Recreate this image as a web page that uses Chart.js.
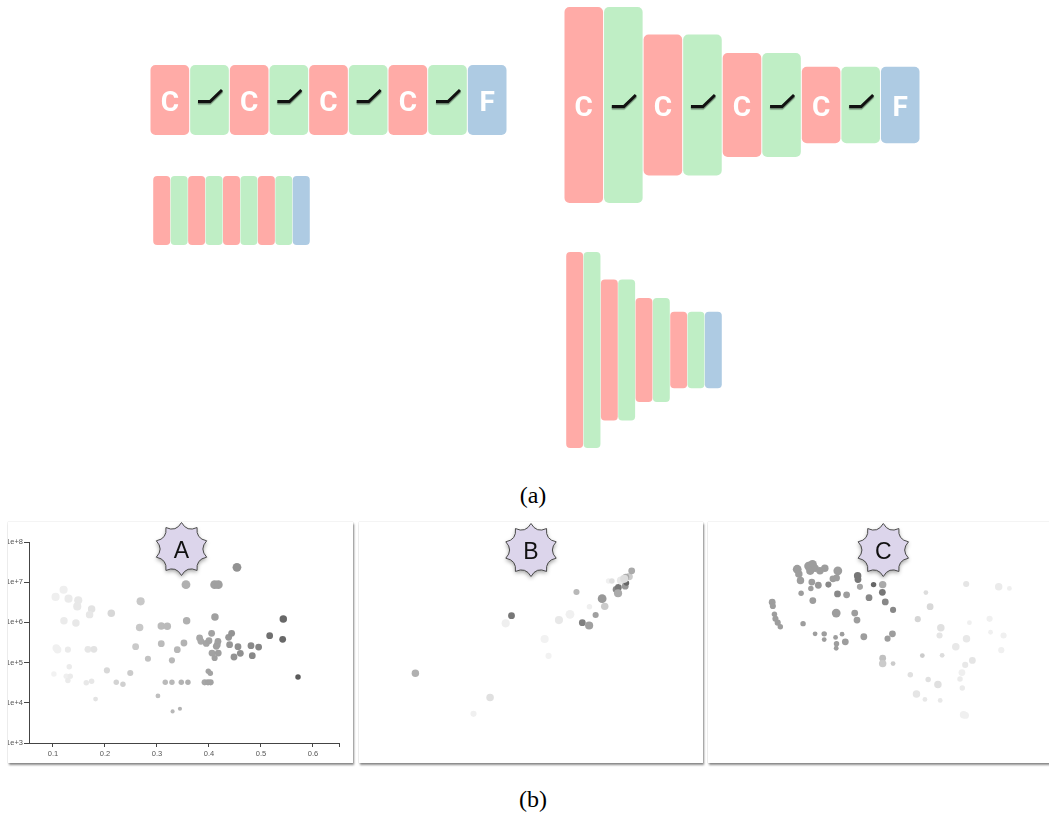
<!DOCTYPE html>
<html>
<head>
<meta charset="utf-8">
<script src="https://cdn.jsdelivr.net/npm/chart.js@4"></script>
<style>
  html, body { margin: 0; padding: 0; background: #fff; }
  body { width: 1049px; height: 814px; position: relative; overflow: hidden; }
  canvas.arch { position: absolute; }
  .panel {
    position: absolute; top: 522px; height: 241px; background: #fff;
    box-shadow: 1px 2px 2px rgba(0,0,0,0.45), 0 0 1px rgba(0,0,0,0.25);
    overflow: hidden;
  }
  .panel canvas { position: absolute; left: 0; top: 0; }
  .cap {
    position: absolute; width: 100px; text-align: center;
    font-family: "Liberation Serif", serif; font-size: 24px; line-height: 24px; color: #000;
  }
</style>
</head>
<body>
<div class="cap" style="left:483px; top:483px;">(a)</div>
<div class="cap" style="left:483px; top:787px;">(b)</div>

<div class="panel" id="panelA" style="left:8px; width:345px;"></div>
<div class="panel" id="panelB" style="left:359px; width:344px;"></div>
<div class="panel" id="panelC" style="left:708px; width:350px;"></div>

<script>
// ---------- (a) network layer stacks ----------
const layerNames = ['conv1', 'relu1', 'conv2', 'relu2', 'conv3', 'relu3', 'conv4', 'relu4', 'fc'];
const layerKind  = ['C', 'R', 'C', 'R', 'C', 'R', 'C', 'R', 'F'];
const flatWidths    = [64, 64, 64, 64, 64, 64, 64, 64, 64];
const pyramidWidths = [256, 256, 184, 184, 136, 136, 100, 100, 100];

// ---------- (b) panel A: x = score, y = parameter count (log), size = depth, tone = accuracy ----------
const aX = [0.1205,0.1051,0.130,0.1487,0.1468,0.1744,0.1705,0.1212,0.1442,0.2122,0.1064,0.109,0.1288,0.1673,0.1788,0.1314,0.1019,0.1256,0.1333,0.1288,0.1641,0.1744,0.182,0.2038,0.2218,0.2346,0.2487,
  0.2686,0.2667,0.259,0.2827,0.3083,0.3199,0.3083,0.3288,0.3391,0.3519,0.3571,0.3558,0.3019,0.316,0.3288,0.3468,0.3596,0.3301,0.3442,
  0.382,0.3846,0.3949,0.4,0.4051,0.4115,0.416,0.4173,0.4141,0.4058,0.4109,0.4179,0.3987,0.4026,0.3917,0.3981,0.4032,0.4109,0.418,0.4538,0.4378,0.4436,0.4397,0.4558,0.4603,0.4481,0.4808,0.4833,0.4955,0.5167,0.5429,0.5417,0.5712];
const aY = [6.5e6,4.3e6,3.9e6,3.54e6,2.5e6,2.15e6,1.56e6,1.1e6,9.7e5,1.68e6,2.3e5,2.1e5,2.1e5,2.14e5,2.14e5,7.9e4,5.2e4,4.55e4,4.55e4,3.6e4,3.17e4,3.42e4,1.24e4,6.4e4,3.23e4,2.88e4,5.5e4,
  3.34e6,7.5e5,2.49e5,1.25e5,8.1e5,8.0e5,2.96e5,1.14e5,2.1e5,3.07e5,1.1e6,8.7e6,1.48e4,3.23e4,3.23e4,3.23e4,3.23e4,6.1e3,7.1e3,
  4.1e5,3.38e5,3.0e5,3.5e5,5.35e5,1.36e6,2.79e5,3.38e5,2.54e5,1.73e5,1.3e5,1.73e5,6.1e4,5.4e4,3.23e4,3.23e4,3.23e4,8.7e6,8.7e6,2.34e7,4.26e5,5.35e5,2.79e5,2.49e5,1.7e5,1.38e5,2.64e5,1.49e5,2.44e5,4.68e5,1.22e6,3.8e5,4.4e4];
const aDepth = [11,11,11,11,11,10,10,10,10,10,10,10,8,9,9,7,7,7,7,7,7,7,6,8,7,7,8,
  11,10,9,8,10,10,9,8,9,9,10,12,6,7,7,7,7,5,5,
  9,9,9,9,9,10,9,9,9,9,8,9,7,7,8,8,8,12,12,12,9,9,9,9,9,9,9,9,9,9,10,9,7];
const aAcc = [4,4,6,8,8,11,9,6,8,19,3,3,6,9,11,6,2,4,6,6,8,9,11,18,21,23,26,
  28,28,27,32,36,37,36,38,39,42,43,43,34,37,38,41,43,38,41,
  48,48,50,51,52,53,54,54,54,52,53,54,51,51,49,51,51,53,54,62,59,61,59,63,63,61,67,68,70,83,88,88,97];
const aXTicks = [0.1, 0.2, 0.3, 0.4, 0.5, 0.6, 0.65];
const aYTicks = [1e3, 1e4, 1e5, 1e6, 1e7, 1e8];

// ---------- panel B: 2-D embedding ----------
const bX = [17.2,40.2,35.1,46.8,45.0,57.0,58.2,61.4,64.8,66.8,68.6,70.7,70.8,72.7,74.7,75.5,76.7,77.7,79.0,79.7,79.6,80.5,81.8,82.2,83.0,83.8,82.0,81.5];
const bY = [48.0,55.6,60.7,30.0,32.4,37.3,42.6,31.4,29.6,22.6,32.2,33.1,27.2,29.8,24.7,27.1,19.2,19.2,21.8,21.2,23.0,19.0,20.8,19.8,17.8,16.0,18.0,18.5];
const bDepth = [10,10,8,9,11,11,8,11,12,8,9,11,7,8,12,10,7,7,9,9,11,11,9,7,10,9,9,11];
const bAcc = [43,13,3,79,4,2,2,8,3,38,73,53,4,53,58,26,3,13,68,79,47,8,58,89,26,47,47,15];

// ---------- panel C: 2-D embedding ----------
const cX = [28.5,29.0,29.5,32.0,33.2,32.5,34.0,35.5,37.0,33.0,35.0,32.7,38.1,39.5,41.0,40.6,29.7,33.3,40.9,43.7,47.1,47.2,47.8,52.0,54.8,54.7,50.6,55.6,58.0,40.5,46.2,46.9,30.3,20.8,21.0,21.5,21.8,22.5,23.3,34.0,36.8,36.8,40.3,40.6,42.3,43.3,40.5,49.0,57.8,56.3,54.8,54.8,58.0,
  68.1,69.4,65.6,72.7,72.3,80.5,90.5,93.8,81.5,87.7,88.0,92.0,91.3,80.6,77.3,67.0,73.1,82.4,80.2,79.2,78.6,79.3,63.3,68.8,71.8,65.2,67.8,72.5,79.7,80.3];
const cY = [15.5,17.0,19.0,14.5,14.0,16.0,15.2,16.0,15.2,19.5,20.5,21.5,20.3,18.5,16.0,18.2,23.0,25.3,23.2,23.5,17.5,18.7,21.0,20.3,20.3,22.7,24.4,25.7,28.2,29.2,29.2,31.4,32.5,25.8,27.0,29.6,31.0,32.2,33.5,35.7,35.7,37.5,36.8,38.8,35.8,38.2,40.2,36.6,35.7,37.2,43.3,45.0,45.0,
  22.8,27.2,31.1,33.8,36.2,20.1,21.0,21.5,32.2,31.0,35.2,36.2,40.8,37.2,39.7,42.5,42.4,44.0,45.4,47.8,49.8,52.6,48.5,50.0,51.5,54.5,56.2,56.5,61.0,61.2];
const cDepth = [12,10,10,12,12,11,10,10,10,9,9,7,8,9,12,9,7,9,9,9,10,9,8,7,10,9,9,9,8,12,9,9,7,9,8,7,8,8,7,6,7,6,6,7,6,9,6,9,9,8,9,10,6,
  6,9,8,10,8,8,10,6,6,8,6,8,8,10,10,6,6,9,8,9,7,7,7,7,10,10,6,6,10,9];
const cAcc = [55,55,55,55,55,55,55,55,55,55,58,55,68,55,55,55,55,55,68,55,79,79,50,89,47,79,68,68,68,55,55,55,55,55,55,55,55,55,55,55,55,55,55,55,55,55,55,55,55,55,33,26,26,
  15,18,20,13,10,10,6,4,4,3,3,3,3,8,8,26,15,10,8,4,6,6,13,13,13,10,8,8,3,3];

// ---------- styling helpers ----------
const kindColor = { C: '#ffaba7', R: '#bfeec5', F: '#aecbe3' };
const grayOf = v => { const g = Math.round(245 - 1.6 * v); return `rgb(${g},${g},${g})`; };
const radiusOf = d => d / 3 + 0.4;

// White letters / ReLU glyph drawn on each block
const glyphPlugin = {
  id: 'layerGlyphs',
  afterDatasetsDraw(chart, args, opts) {
    if (!opts.enabled) return;
    const ctx = chart.ctx;
    const meta = chart.getDatasetMeta(0);
    meta.data.forEach((bar, i) => {
      const cx = bar.x, cy = (bar.y + bar.base) / 2;
      const kind = layerKind[i];
      ctx.save();
      if (kind === 'R') {
        ctx.shadowColor = 'rgba(0,0,0,0.45)';
        ctx.shadowOffsetY = 1.5;
        ctx.shadowBlur = 1;
        ctx.strokeStyle = '#111';
        ctx.lineWidth = 3;
        ctx.lineJoin = 'miter';
        ctx.beginPath();
        ctx.moveTo(cx - 11.5, cy + 1.5);
        ctx.lineTo(cx + 0.5, cy + 1.5);
        ctx.lineTo(cx + 12.5, cy - 10);
        ctx.stroke();
      } else {
        ctx.fillStyle = '#fff';
        ctx.font = 'bold 28px Roboto, "DejaVu Sans", sans-serif';
        ctx.textAlign = 'center';
        ctx.textBaseline = 'alphabetic';
        ctx.fillText(kind, cx, cy + 10.5);
      }
      ctx.restore();
    });
  }
};

function archChart(left, top, width, height, widths, span, labelled, radius) {
  const cv = document.createElement('canvas');
  cv.className = 'arch';
  cv.width = width; cv.height = height;
  cv.style.left = left + 'px'; cv.style.top = top + 'px';
  document.body.appendChild(cv);
  new Chart(cv, {
    type: 'bar',
    data: {
      labels: layerNames,
      datasets: [{
        data: widths.map(w => [-w / 2, w / 2]),
        backgroundColor: layerKind.map(k => kindColor[k]),
        borderRadius: radius,
        borderSkipped: false,
        borderWidth: 0,
        barPercentage: 0.975,
        categoryPercentage: 1
      }]
    },
    options: {
      responsive: false, animation: false, events: [],
      layout: { padding: 0 },
      plugins: { legend: { display: false }, tooltip: { enabled: false }, layerGlyphs: { enabled: labelled } },
      scales: {
        x: { display: false },
        y: { display: false, min: -span / 2, max: span / 2 }
      }
    },
    plugins: [glyphPlugin]
  });
}

archChart(150, 65, 357, 70, flatWidths, 64, true, 5);
archChart(153, 176, 157, 69, flatWidths, 64, false, 4);
archChart(564, 7, 356, 196, pyramidWidths, 256, true, 5);
archChart(566, 252, 156, 196, pyramidWidths, 256, false, 4);

// ---------- (b) badge marker ----------
const badgePlugin = {
  id: 'badge',
  afterDraw(chart, args, o) {
    const ctx = chart.ctx;
    const n = 10, R = 26.5, rc = 17.5;
    ctx.save();
    ctx.beginPath();
    for (let i = 0; i <= n; i++) {
      const a = -Math.PI / 2 + i * 2 * Math.PI / n;
      const px = o.x + R * Math.cos(a), py = o.y + R * Math.sin(a);
      if (i === 0) ctx.moveTo(px, py);
      else {
        const m = a - Math.PI / n;
        ctx.quadraticCurveTo(o.x + rc * Math.cos(m), o.y + rc * Math.sin(m), px, py);
      }
    }
    ctx.closePath();
    ctx.shadowColor = 'rgba(0,0,0,0.4)';
    ctx.shadowBlur = 4;
    ctx.shadowOffsetY = 2;
    ctx.fillStyle = '#dcd5eb';
    ctx.fill();
    ctx.shadowColor = 'transparent';
    ctx.lineWidth = 1;
    ctx.strokeStyle = '#4a4a4a';
    ctx.stroke();
    ctx.fillStyle = '#111';
    ctx.font = '23px "Liberation Sans", Arial, sans-serif';
    ctx.textAlign = 'center';
    ctx.textBaseline = 'alphabetic';
    ctx.fillText(o.label, o.x, o.y + 8.5);
    ctx.restore();
  }
};

function panelCanvas(id) {
  const host = document.getElementById(id);
  const cv = document.createElement('canvas');
  cv.width = host.offsetWidth; cv.height = host.offsetHeight;
  host.appendChild(cv);
  return cv;
}

function bubbles(xs, ys, depth, acc) {
  return [{
    data: xs.map((x, i) => ({ x, y: ys[i], r: radiusOf(depth[i]) })),
    backgroundColor: acc.map(grayOf),
    borderWidth: 0,
    hoverRadius: 0
  }];
}

const axisFont = { family: '"Liberation Sans", Arial, sans-serif', size: 7.5 };
const gridStyle = { drawOnChartArea: false, drawTicks: true, color: '#444', lineWidth: 1 };

new Chart(panelCanvas('panelA'), {
  type: 'bubble',
  data: { datasets: bubbles(aX, aY, aDepth, aAcc) },
  options: {
    responsive: false, animation: false, events: [],
    layout: { padding: { left: 0, right: 14, top: 20, bottom: 0 } },
    plugins: { legend: { display: false }, tooltip: { enabled: false }, badge: { label: 'A', x: 173.5, y: 27 } },
    scales: {
      x: {
        type: 'linear', min: 0.054, max: 0.65,
        afterBuildTicks: s => { s.ticks = aXTicks.map(v => ({ value: v })); },
        afterFit: s => { s.height = 20; },
        ticks: { font: axisFont, color: '#555', padding: 2, maxRotation: 0, autoSkip: false,
                 callback: v => (v > 0.62 ? '' : v.toFixed(1)) },
        grid: Object.assign({ tickLength: 4 }, gridStyle),
        border: { display: true, color: '#444', width: 1 }
      },
      y: {
        type: 'logarithmic', min: 1e3, max: 1e8,
        afterBuildTicks: s => { s.ticks = aYTicks.map(v => ({ value: v })); },
        afterFit: s => { s.width = 21; },
        ticks: { font: axisFont, color: '#555', padding: 1, autoSkip: false,
                 callback: v => '1e+' + Math.round(Math.log10(v)) },
        grid: Object.assign({ tickLength: 5 }, gridStyle),
        border: { display: true, color: '#444', width: 1 }
      }
    }
  },
  plugins: [badgePlugin]
});

function embeddingChart(id, xs, ys, depth, acc, xMin, xMax, label, bx) {
  new Chart(panelCanvas(id), {
    type: 'bubble',
    data: { datasets: bubbles(xs, ys, depth, acc) },
    options: {
      responsive: false, animation: false, events: [],
      layout: { padding: 0 },
      plugins: { legend: { display: false }, tooltip: { enabled: false }, badge: { label, x: bx, y: 28 } },
      scales: {
        x: { type: 'linear', display: false, min: xMin, max: xMax },
        y: { type: 'linear', display: false, min: 2.1, max: 74.7, reverse: true }
      }
    },
    plugins: [badgePlugin]
  });
}

embeddingChart('panelB', bX, bY, bDepth, bAcc, 1.2, 104.4, 'B', 172);
embeddingChart('panelC', cX, cY, cDepth, cAcc, 2.4, 107.4, 'C', 175.3);
</script>
</body>
</html>
